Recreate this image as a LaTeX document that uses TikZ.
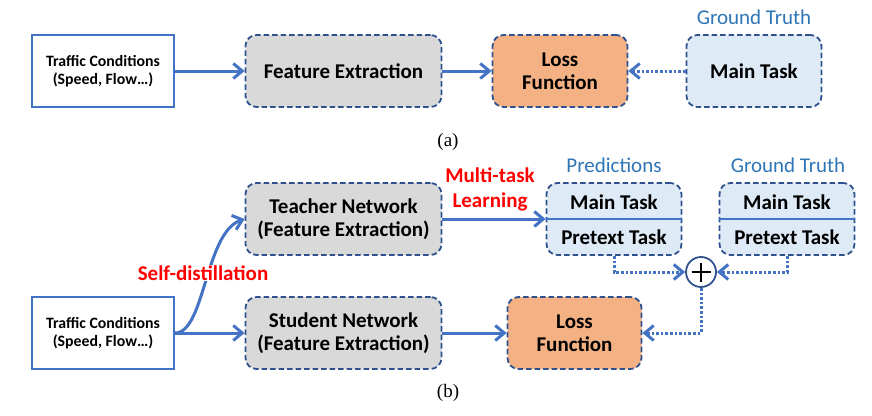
\documentclass[tikz,border=0pt]{standalone}
\usepackage{fontspec}
\setmainfont{Carlito}
\newfontfamily\capfont{Liberation Serif}
\usetikzlibrary{arrows.meta}
\definecolor{bdr}{HTML}{2F528F}
\definecolor{arr}{HTML}{4472C4}
\definecolor{gfill}{HTML}{D9D9D9}
\definecolor{ofill}{HTML}{F4B183}
\definecolor{bfill}{HTML}{DEEBF7}
\definecolor{lblue}{HTML}{2E75B6}
\begin{document}
\begin{tikzpicture}[x=1pt,y=-1pt,
  inbox/.style={draw=arr, line width=2pt, fill=white, minimum width=142pt, minimum height=72pt,
    align=center, font=\fontsize{15.8}{17.5}\selectfont\bfseries, inner sep=0pt},
  dbox/.style={draw=bdr, line width=1.8pt, dash pattern=on 5.5pt off 3pt, rounded corners=11pt,
    minimum height=72pt, align=center, font=\fontsize{21}{23}\selectfont\bfseries, inner sep=0pt},
  txt/.style={font=\fontsize{21}{24}\selectfont\bfseries, inner sep=0pt},
  lbl/.style={font=\fontsize{21}{24}\selectfont, text=lblue, inner sep=0pt},
  redlbl/.style={font=\fontsize{21}{25}\selectfont\bfseries, text=red, align=center, inner sep=1pt},
  captxt/.style={font=\capfont\fontsize{19}{22}\selectfont, inner sep=0pt},
  flow/.style={draw=arr, line width=3pt, -{Straight Barb[length=9pt,width=15pt]}},
  dots/.style={draw=arr, line width=3pt, dash pattern=on 2.6pt off 2pt, -{Straight Barb[length=9pt,width=15pt]}}
]
\useasboundingbox (0,0) rectangle (872,415);

% ---------- (a) ----------
\node[inbox] (tca) at (103,71) {Traffic Conditions\\(Speed, Flow…)};
\node[dbox, fill=gfill, minimum width=196pt] (fea) at (343.5,71) {Feature Extraction};
\node[dbox, fill=ofill, minimum width=135pt] (lossa) at (560,71) {Loss\\Function};
\node[dbox, fill=bfill, minimum width=135pt] (gta) at (754,71) {Main Task};
\node[lbl] (gtla) at (754,17) {Ground Truth};
\node[captxt] (capa) at (448,142) {(a)};

\draw[flow] (tca) -- (fea);
\draw[flow] (fea) -- (lossa);
\draw[dots] (gta) -- (lossa);

% ---------- (b) ----------
\node[inbox] (tcb) at (103,333) {Traffic Conditions\\(Speed, Flow…)};
\node[dbox, fill=gfill, minimum width=196pt] (tea) at (343.5,219) {Teacher Network\\(Feature Extraction)};
\node[dbox, fill=gfill, minimum width=196pt] (stu) at (343.5,333) {Student Network\\(Feature Extraction)};
\node[dbox, fill=ofill, minimum width=134pt] (lossb) at (574.5,333) {Loss\\Function};
\node[dbox, fill=bfill, minimum width=135pt] (pred) at (614,219) {};
\node[dbox, fill=bfill, minimum width=135pt] (gtb) at (787,219) {};
\draw[arr, line width=1.8pt] (pred.west) -- (pred.east);
\draw[arr, line width=1.8pt] (gtb.west) -- (gtb.east);
\node[txt] (pm) at (614,202) {Main Task};
\node[txt] (pp) at (614,237) {Pretext Task};
\node[txt] (gm) at (787,202) {Main Task};
\node[txt] (gp) at (787,237) {Pretext Task};
\node[lbl] (predl) at (614,165) {Predictions};
\node[lbl] (gtlb) at (788,165) {Ground Truth};

\node[circle, draw=bdr, line width=1.8pt, fill=white, minimum size=30pt, inner sep=0pt] (plus) at (701,272) {};
\draw[line width=2.2pt] ([yshift=-9.5pt]plus.center) -- ([yshift=9.5pt]plus.center);
\draw[line width=2.2pt] ([xshift=-9.5pt]plus.center) -- ([xshift=9.5pt]plus.center);

\draw[flow] (tea.east) -- (tea.east -| pred.west);
\draw[flow] (tcb) -- (stu);
\draw[flow] (stu) -- (lossb);
\draw[flow] (tcb.east) .. controls (205,333) and (205,232) .. (tea.west);
\draw[dots] (pred.south) |- (plus.west);
\draw[dots] (gtb.south) |- (plus.east);
\draw[dots] (plus.south) |- (lossb.east);

\node[redlbl, fill=white] (sd) at (203,273) {Self-distillation};
\node[redlbl] (mtl) at (490,189.5) {Multi-task\\Learning};
\node[captxt] (capb) at (448,393) {(b)};
\end{tikzpicture}
\end{document}
